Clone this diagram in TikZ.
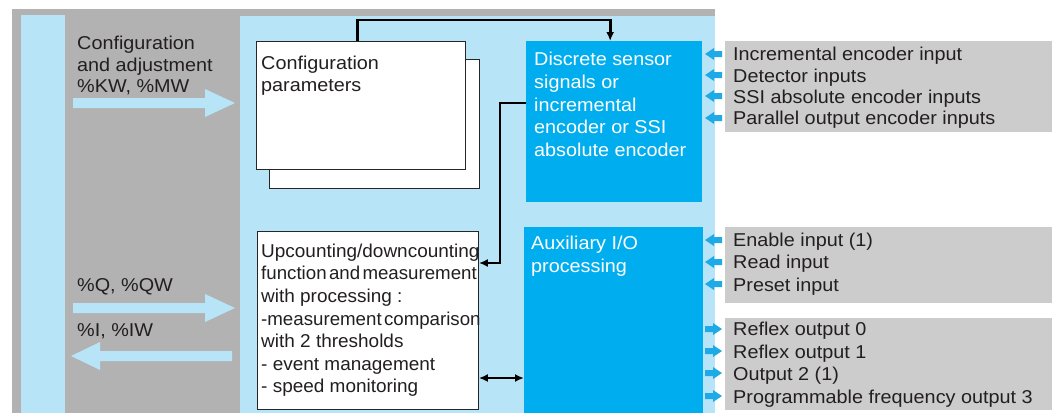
\documentclass[tikz,border=0pt]{standalone}
\usepackage{fontspec}
\setmainfont{Liberation Sans}[FakeStretch=1.065]
\newfontfamily\narrowfont{Liberation Sans}[FakeStretch=1.02]
\newfontfamily\tightfont{Liberation Sans}[FakeStretch=1.005, WordSpace=0.45]
\usetikzlibrary{arrows.meta}
\definecolor{cgray}{RGB}{178,178,178}
\definecolor{clight}{RGB}{184,228,248}
\definecolor{cblue}{RGB}{0,174,239}
\definecolor{cpale}{RGB}{204,204,204}
\definecolor{carrow}{RGB}{30,170,230}
\definecolor{ctext}{RGB}{35,31,32}

\begin{document}
\begin{tikzpicture}[x=1pt, y=-1pt,
    every node/.style={inner sep=0pt, text=ctext},
    box/.style={draw=black!85, fill=white, line width=0.9pt, anchor=north west},
    unit/.style={fill=cblue, anchor=north west},
    panel/.style={fill=cpale, anchor=north west},
    txt/.style={anchor=base west, align=left},
    link/.style={line width=2.6pt, -{Latex[length=9pt,width=8pt]}}]
  \useasboundingbox (0,0) rectangle (1052,413);

  \fill [cgray] (12,9) rectangle (715,413);
  \fill [clight] (21,15) rectangle (65,413);
  \fill [clight] (240,16) rectangle (715,413);

  \node [box, minimum width=210, minimum height=129] (cfgback) at (269,59) {};
  \node [box, minimum width=209, minimum height=128] (cfg) at (256,41) {};
  \node [box, minimum width=221, minimum height=178] (count) at (257,231) {};
  \node [unit, minimum width=176, minimum height=161] (sensor) at (526,41) {};
  \node [unit, minimum width=179, minimum height=186] (aux) at (524,227) {};

  \node [panel, minimum width=327, minimum height=91] (inlist) at (725,41) {};
  \node [panel, minimum width=327, minimum height=76] (auxin) at (725,227) {};
  \node [panel, minimum width=327, minimum height=92] (auxout) at (725,318) {};

  % wide arrows to and from the CPU
  \fill [clight] (73,98) -- ++(132,0) -- ++(0,-9) -- (235,103) -- (205,117) -- ++(0,-9) -- (73,108) -- cycle;
  \fill [clight] (73,303) -- ++(132,0) -- ++(0,-9) -- (235,308) -- (205,322) -- ++(0,-9) -- (73,313) -- cycle;
  \fill [clight] (232,351) -- ++(-132,0) -- ++(0,-9) -- (71,356) -- (100,370) -- ++(0,-9) -- (232,361) -- cycle;

  % texts placed by the baseline of their last line
  \node [txt, font=\fontsize{18.6}{21.5}\selectfont] (cfglabel) at (77,92.5) {Configuration\\and adjustment\\\%KW, \%MW};
  \node [txt, font=\fontsize{18.6}{21.5}\selectfont] (qlabel) at (77,291) {\%Q, \%QW};
  \node [txt, font=\fontsize{18.6}{21.5}\selectfont] (ilabel) at (77,336) {\%I, \%IW};

  \node [txt, font=\fontsize{18.6}{22.7}\selectfont] (cfgtext) at (261,91.7) {Configuration\\parameters};
  \node [txt, font=\narrowfont\fontsize{18.6}{22.6}\selectfont] (counttext) at (261,392.9)
    {Upcounting/downcounting\\{\tightfont function and measurement}\\with processing :\\{\tightfont -measurement comparison}\\with 2 thresholds\\- event management\\- speed monitoring};
  \node [txt, text=white, font=\fontsize{18.6}{22.75}\selectfont] (sensortext) at (534,156.7)
    {Discrete sensor\\signals or\\incremental\\encoder or SSI\\absolute encoder};
  \node [txt, text=white, font=\fontsize{18.6}{22.7}\selectfont] (auxtext) at (531,272) {Auxiliary I/O\\processing};

  \node [txt, font=\fontsize{18.6}{21.3}\selectfont] (intext) at (733,124.6)
    {Incremental encoder input\\Detector inputs\\SSI absolute encoder inputs\\Parallel output encoder inputs};
  \node [txt, font=\fontsize{18.6}{22.2}\selectfont] (auxintext) at (733,291.1)
    {Enable input (1)\\Read input\\Preset input};
  \node [txt, font=\fontsize{18.6}{22.5}\selectfont] (auxouttext) at (733,403.2)
    {Reflex output 0\\Reflex output 1\\Output 2 (1)\\Programmable frequency output 3};

  % small arrows
  \foreach \y in {54,75,96,118,240,262,284}
    \fill [carrow] (705,\y) -- ++(9,-6) -- ++(0,3) -- ++(8,0) -- ++(0,6) -- ++(-8,0) -- ++(0,3) -- cycle;
  \foreach \y in {329,351,373,396}
    \fill [carrow] (722,\y) -- ++(-9,-6) -- ++(0,3) -- ++(-8,0) -- ++(0,6) -- ++(8,0) -- ++(0,3) -- cycle;

  \coordinate (k1) at (500,103);
  \coordinate (k2) at (500,263);
  \coordinate (k3) at (500,378);
  \draw [link] ([xshift=-3.5pt]cfg.north) -- ++(0,-21) -| ([xshift=-4pt]sensor.north);
  \draw [link] (sensor.west |- k1) -- (k1) -- (k2) -- (count.east |- k2);
  \draw [link, {Latex[length=9pt,width=8pt]}-{Latex[length=9pt,width=8pt]}] (count.east |- k3) -- (aux.west |- k3);
\end{tikzpicture}
\end{document}
